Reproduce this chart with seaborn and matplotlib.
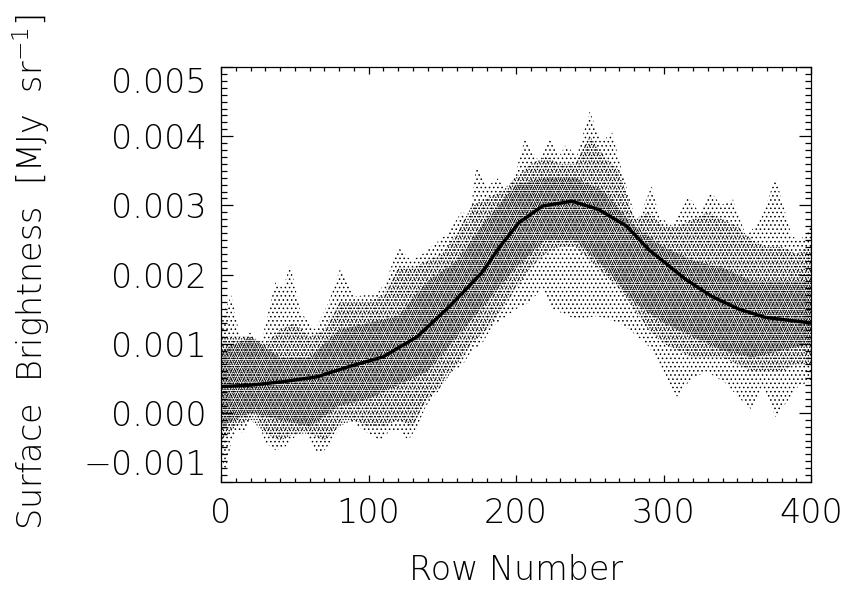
import matplotlib
matplotlib.use("Agg")
import matplotlib.pyplot as plt
from matplotlib import font_manager
from matplotlib.ticker import MultipleLocator, FixedLocator, FixedFormatter
import pandas as pd
import seaborn as sns

# Outer envelope of the per-row profiles (row number, MJy/sr)
upper_rows = [0, 3, 7, 13, 20, 27, 37, 42, 47, 54, 64, 73, 81, 91, 97, 105, 112,
              120, 129, 137, 146, 154, 164, 168, 173, 181, 187, 194, 200, 206,
              216, 223, 229, 234, 241, 250, 258, 265, 272, 282, 292, 297, 306,
              317, 324, 332, 339, 347, 356, 366, 376, 387, 393, 400]
upper_vals = [0.0013, 0.0015, 0.0017, 0.00108, 0.00116, 0.0010, 0.0019, 0.0018,
              0.00214, 0.00145, 0.0012, 0.0016, 0.0021, 0.00168, 0.0017, 0.0017,
              0.0019, 0.0024, 0.0022, 0.0023, 0.00246, 0.0026, 0.00294, 0.0027,
              0.00357, 0.00327, 0.0034, 0.0032, 0.0035, 0.00396, 0.00362, 0.0040,
              0.0037, 0.00388, 0.0037, 0.00436, 0.0039, 0.00407, 0.00348, 0.00275,
              0.00328, 0.00284, 0.0027, 0.00313, 0.0029, 0.0032, 0.0030, 0.00309,
              0.00255, 0.0028, 0.0034, 0.00255, 0.0025, 0.0027]
lower_rows = [0, 3, 7, 11, 16, 23, 30, 37, 43, 50, 57, 64, 68, 77, 84, 93, 100,
              108, 115, 121, 127, 133, 139, 148, 153, 158, 164, 170, 177, 184,
              194, 200, 209, 218, 225, 241, 255, 270, 277, 290, 300, 309, 315,
              320, 329, 342, 352, 360, 367, 376, 385, 392, 400]
lower_vals = [-0.0006, -0.00085, -0.00043, -0.00025, -0.0003, 0.00004, -0.00043,
              -0.00054, -0.0005, -0.00035, -0.00025, -0.00054, -0.0006, -0.00035,
              -0.00006, -0.0002, -0.0003, -0.0004, -0.00025, -0.00025, -0.0004,
              -0.0002, 0.0001, 0.00033, 0.0006, 0.0006, 0.0007, 0.0009, 0.0010,
              0.00125, 0.0014, 0.0015, 0.0016, 0.0018, 0.0015, 0.00135, 0.0014,
              0.0013, 0.0012, 0.00096, 0.0006, 0.00023, 0.0004, 0.0005, 0.0006,
              0.00043, 0.0002, 0.00004, 0.0004, -0.00006, 0.0002, 0.0004, 0.00045]

# Main body of the bundle, without the sparse fringes
body_rows = [0, 10, 20, 30, 40, 50, 60, 70, 80, 90, 100, 110, 120, 130, 140,
             150, 160, 170, 180, 190, 200, 210, 220, 230, 240, 250, 260, 270,
             280, 290, 300, 310, 320, 330, 340, 350, 360, 370, 380, 390, 400]
body_hi = [0.0011, 0.0011, 0.0011, 0.0010, 0.0012, 0.0013, 0.0011, 0.0012,
           0.0016, 0.0016, 0.0016, 0.0017, 0.0021, 0.0021, 0.0022, 0.0023,
           0.0026, 0.0030, 0.0031, 0.0032, 0.0034, 0.0036, 0.0037, 0.0036,
           0.0036, 0.0040, 0.0037, 0.0035, 0.0028, 0.0029, 0.0027, 0.0027,
           0.0028, 0.0029, 0.0028, 0.0027, 0.0025, 0.0024, 0.0024, 0.0023, 0.0024]
body_lo = [-0.0004, -0.0002, -0.0001, -0.0003, -0.0004, -0.0003, -0.0003,
           -0.0004, -0.0002, -0.0001, -0.0002, -0.0002, -0.0001, -0.0002,
           0.0002, 0.0004, 0.0007, 0.0010, 0.0012, 0.0015, 0.0018, 0.0021,
           0.0023, 0.0024, 0.0024, 0.0022, 0.0020, 0.0018, 0.0015, 0.0012,
           0.0010, 0.0009, 0.0008, 0.0008, 0.0008, 0.0007, 0.0006, 0.0006,
           0.0006, 0.0007, 0.0007]

# Densest part of the profile bundle
core_rows = [0, 20, 40, 60, 80, 100, 120, 140, 160, 180, 200, 220, 240, 260,
             280, 300, 320, 340, 360, 380, 400]
core_hi = [0.0009, 0.0011, 0.0008, 0.0008, 0.0012, 0.0013, 0.0014, 0.0019,
           0.0022, 0.0028, 0.0033, 0.0034, 0.0034, 0.0032, 0.0027, 0.0024,
           0.0022, 0.0021, 0.0019, 0.0019, 0.0019]
core_lo = [-0.0002, 0.0000, -0.0001, -0.0002, 0.0001, 0.0002, 0.0004, 0.0006,
           0.0011, 0.0016, 0.0021, 0.0025, 0.0025, 0.0021, 0.0016, 0.0013,
           0.0011, 0.0009, 0.0008, 0.0009, 0.0010]

# Smooth fit through the profiles
fit_rows = [0, 20, 42, 65, 87, 110, 133, 155, 177, 189, 202, 218, 238, 256,
            275, 290, 315, 333, 351, 369, 392, 400]
fit_vals = [0.00038, 0.0004, 0.00045, 0.00052, 0.00067, 0.00081, 0.0011,
            0.00154, 0.00203, 0.0024, 0.00275, 0.00299, 0.00306, 0.00294,
            0.0027, 0.00236, 0.00193, 0.00168, 0.0015, 0.00138, 0.00132, 0.0013]

y_ticks = [-0.001, 0.000, 0.001, 0.002, 0.003, 0.004, 0.005]
y_tick_labels = ["\u22120.001", "0.000", "0.001", "0.002", "0.003", "0.004", "0.005"]
x_ticks = [0, 100, 200, 300, 400]
x_tick_labels = ["0", "100", "200", "300", "400"]

sns.set_theme(style="ticks")

# thin sans face for all text
thin = [f for f in font_manager.fontManager.ttflist
        if f.name == "DejaVu Sans" and f.weight <= 300 and f.style == "normal"]
if thin:
    face, weight = "DejaVu Sans", thin[0].weight
else:
    face, weight = "Lato", "light"
plt.rcParams["font.family"] = [face, "DejaVu Sans"]
plt.rcParams["mathtext.fontset"] = "custom"
plt.rcParams["mathtext.rm"] = f"{face}:weight={weight}"
plt.rcParams["mathtext.it"] = f"{face}:weight={weight}"
plt.rcParams["mathtext.default"] = "rm"
plt.rcParams["hatch.linewidth"] = 0.6
plt.rcParams["hatch.color"] = "black"

fig = plt.figure(figsize=(8.49, 5.91), dpi=100)
ax = fig.add_axes([221 / 849, 109 / 591, 590 / 849, 415 / 591])

# dot cloud in three densities: fringes, main body, core
ax.fill(upper_rows + lower_rows[::-1], upper_vals + lower_vals[::-1],
        facecolor="none", edgecolor="black", hatch="....", linewidth=0)
ax.fill(body_rows + body_rows[::-1], body_hi + body_lo[::-1],
        facecolor="none", edgecolor="black", hatch="......", linewidth=0)
ax.fill(core_rows + core_rows[::-1], core_hi + core_lo[::-1],
        facecolor="none", edgecolor="black", hatch="........", linewidth=0)

fit = pd.DataFrame({"row": fit_rows, "sb": fit_vals})
sns.lineplot(data=fit, x="row", y="sb", color="black", linewidth=2.4, ax=ax)

ax.set_xlim(0, 400)
ax.set_ylim(-0.001, 0.005)
ax.xaxis.set_major_locator(FixedLocator(x_ticks))
ax.xaxis.set_major_formatter(FixedFormatter(x_tick_labels))
ax.xaxis.set_minor_locator(MultipleLocator(10))
ax.yaxis.set_major_locator(FixedLocator(y_ticks))
ax.yaxis.set_major_formatter(FixedFormatter(y_tick_labels))
ax.yaxis.set_minor_locator(MultipleLocator(0.0001))

for side in ["top", "right", "bottom", "left"]:
    ax.spines[side].set_visible(True)
    ax.spines[side].set_linewidth(0.9)
    ax.spines[side].set_color("black")

ax.tick_params(axis="both", which="both", direction="in", top=True, right=True,
               color="black", width=0.9)
ax.tick_params(axis="y", which="major", length=8.6, pad=10, labelsize=24)
ax.tick_params(axis="y", which="minor", length=4.3)
ax.tick_params(axis="x", which="major", length=5.0, pad=11, labelsize=24)
ax.tick_params(axis="x", which="minor", length=2.6)
for lab in ax.get_xticklabels() + ax.get_yticklabels():
    lab.set_fontweight(weight)
    lab.set_color("black")

ylabs = ax.get_yticklabels()
ylabs[0].set_verticalalignment("bottom")
ylabs[-1].set_verticalalignment("top")

ax.set_xlabel("")
ax.set_ylabel("")
fig.text(516 / 849, 1 - 570 / 591, "Row Number", ha="center", va="center",
         fontsize=24, fontweight=weight, color="black")
fig.text(31 / 849, 1 - 272 / 591, "Surface  Brightness  [MJy  sr$^{-1}$]",
         rotation=90, ha="center", va="center", fontsize=24,
         fontweight=weight, color="black")

fig.savefig("out.png", dpi=100)
